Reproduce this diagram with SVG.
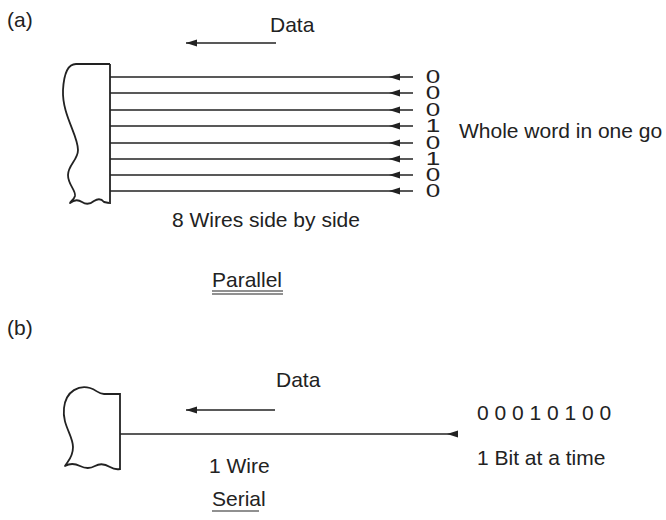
<svg xmlns="http://www.w3.org/2000/svg" width="666" height="520" viewBox="0 0 666 520">
<style>
text{font-family:"Liberation Sans",Arial,sans-serif;font-size:21px;fill:#222}
.w{stroke:#222;stroke-width:1.4;fill:none}
.blk{stroke:#222;stroke-width:1.8;fill:none;stroke-linejoin:round}
.d{font-size:18px;text-anchor:middle}
.u{stroke:#222;stroke-width:1.2}
</style>
<defs>
<marker id="ah" markerUnits="userSpaceOnUse" markerWidth="12" markerHeight="8" refX="11" refY="3.5" orient="auto">
<path d="M0,0 L11,3.5 L0,7 z" fill="#222"/>
</marker>
</defs>
<g id="label-a"><text x="7" y="27">(a)</text></g>
<g id="label-b"><text x="7" y="335">(b)</text></g>
<g id="parallel-block">
<path class="blk" d="M110,64 L76,64 C68,64 64,72 63,90 C62,115 78,135 78,150 C78,160 68,165 68,175 C68,185 76,190 75,196 C74,200 70,201 70,203 Q76,198 82,202 Q88,206 94,201 Q100,197 104,202 L109,203"/>
<path class="blk" d="M110,64 L110,204"/>
</g>
<g id="serial-block">
<path class="blk" d="M120,394 L104,394 C98,394 97,390 90,388 C80,385 66,390 64,408 C62,425 73,435 73,447 C73,458 67,462 65,466 Q72,462 80,466 Q88,470 95,466 Q102,462 110,467 Q115,470 120,469"/>
<path class="blk" d="M120,393 L120,470"/>
</g>
<g id="connectors">
<path class="w" d="M413,77 L389,77 L110,77" marker-mid="url(#ah)"/>
<path class="w" d="M413,93 L389,93 L110,93" marker-mid="url(#ah)"/>
<path class="w" d="M413,110 L389,110 L110,110" marker-mid="url(#ah)"/>
<path class="w" d="M413,126 L389,126 L110,126" marker-mid="url(#ah)"/>
<path class="w" d="M413,143 L389,143 L110,143" marker-mid="url(#ah)"/>
<path class="w" d="M413,159 L389,159 L110,159" marker-mid="url(#ah)"/>
<path class="w" d="M413,175 L389,175 L110,175" marker-mid="url(#ah)"/>
<path class="w" d="M413,191 L389,191 L110,191" marker-mid="url(#ah)"/>
<path class="w" d="M276,43 L186,43" marker-end="url(#ah)"/>
<path class="w" d="M275,410 L186,410" marker-end="url(#ah)"/>
<path class="w" d="M457,434 L447,434 L120,434" marker-mid="url(#ah)"/>
</g>
<g id="parallel-labels">
<text x="270" y="32">Data</text>
<g transform="translate(433,0) scale(1.45,1)">
<text class="d"><tspan x="0" y="83">0</tspan><tspan x="0" y="99">0</tspan><tspan x="0" y="116">0</tspan><tspan x="0" y="132">1</tspan><tspan x="0" y="149">0</tspan><tspan x="0" y="165">1</tspan><tspan x="0" y="181">0</tspan><tspan x="0" y="197">0</tspan></text>
</g>
<text x="459" y="138">Whole word in one go</text>
<text x="172" y="227">8 Wires side by side</text>
<text x="212" y="287">Parallel</text>
<line class="u" x1="212" y1="291" x2="283" y2="291"/>
<line class="u" x1="212" y1="294" x2="283" y2="294"/>
</g>
<g id="serial-labels">
<text x="276" y="387">Data</text>
<text x="477" y="420" xml:space="preserve">0 0 0 1 0 1 0 0</text>
<text x="477" y="465">1 Bit at a time</text>
<text x="209" y="473">1 Wire</text>
<text x="212" y="506">Serial</text>
<line class="u" x1="212" y1="511" x2="259" y2="511"/>
</g>
</svg>
